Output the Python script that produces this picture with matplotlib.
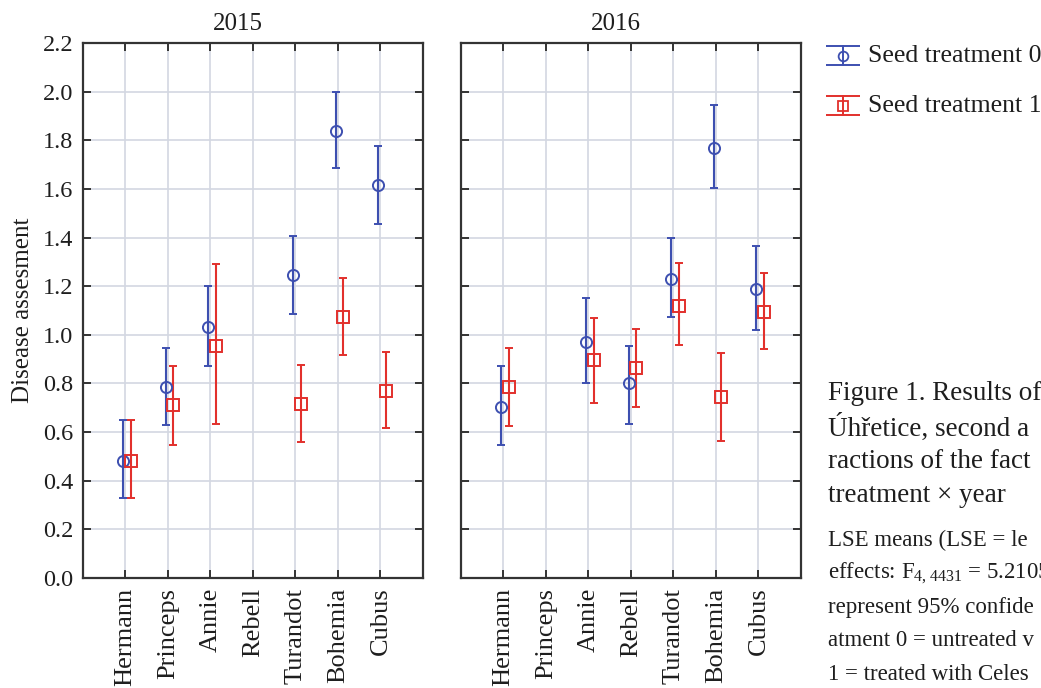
import numpy as np
import matplotlib.pyplot as plt
from matplotlib.lines import Line2D

plt.rcParams['font.family'] = ['Liberation Serif', 'DejaVu Serif']
plt.rcParams['mathtext.fontset'] = 'custom'
plt.rcParams['mathtext.rm'] = 'Liberation Serif'

cultivars = ['Hermann', 'Princeps', 'Annie', 'Rebell', 'Turandot', 'Bohemia', 'Cubus']
years = ['2015', '2016']

# means and 95% CI bounds, nan = not tested that year
t0_mean_2015 = [0.48, 0.785, 1.03, np.nan, 1.245, 1.84, 1.615]
t0_low_2015 = [0.33, 0.63, 0.87, np.nan, 1.085, 1.685, 1.455]
t0_high_2015 = [0.65, 0.945, 1.20, np.nan, 1.405, 2.00, 1.775]
t1_mean_2015 = [0.48, 0.71, 0.955, np.nan, 0.715, 1.075, 0.77]
t1_low_2015 = [0.33, 0.545, 0.635, np.nan, 0.56, 0.915, 0.615]
t1_high_2015 = [0.65, 0.87, 1.29, np.nan, 0.875, 1.235, 0.93]

t0_mean_2016 = [0.705, np.nan, 0.97, 0.80, 1.23, 1.77, 1.19]
t0_low_2016 = [0.545, np.nan, 0.80, 0.635, 1.075, 1.605, 1.02]
t0_high_2016 = [0.87, np.nan, 1.15, 0.955, 1.40, 1.945, 1.365]
t1_mean_2016 = [0.785, np.nan, 0.895, 0.865, 1.12, 0.745, 1.095]
t1_low_2016 = [0.625, np.nan, 0.72, 0.705, 0.96, 0.565, 0.94]
t1_high_2016 = [0.945, np.nan, 1.07, 1.025, 1.295, 0.925, 1.255]

blue = '#3d4fb0'
red = '#e2302c'
gridc = '#d3d7e2'
framec = '#333333'
txtc = '#1e1e1e'

fig = plt.figure(figsize=(10.41, 6.88), dpi=100)
axes = [fig.add_axes([0.0797, 0.16, 0.3266, 0.7775]),
        fig.add_axes([0.4428, 0.16, 0.3266, 0.7775])]

data = {
    '2015': (t0_mean_2015, t0_low_2015, t0_high_2015, t1_mean_2015, t1_low_2015, t1_high_2015),
    '2016': (t0_mean_2016, t0_low_2016, t0_high_2016, t1_mean_2016, t1_low_2016, t1_high_2016),
}

x = np.arange(1, len(cultivars) + 1)
for ax, yr in zip(axes, years):
    m0, l0, h0, m1, l1, h1 = [np.array(v) for v in data[yr]]
    ax.errorbar(x - 0.05, m0, yerr=[m0 - l0, h0 - m0], fmt='o', color=blue,
                mfc='none', mec=blue, ms=8, mew=1.4, elinewidth=1.5, capsize=2.8,
                capthick=1.5, zorder=3)
    ax.errorbar(x + 0.12, m1, yerr=[m1 - l1, h1 - m1], fmt='s', color=red,
                mfc='none', mec=red, ms=8, mew=1.4, elinewidth=1.5, capsize=2.8,
                capthick=1.5, zorder=3)
    ax.set_xlim(0, 8)
    ax.set_ylim(0, 2.2)
    ax.set_xticks(x)
    ax.set_xticklabels(cultivars, rotation=90, fontsize=19, color=txtc)
    ax.set_yticks(np.arange(0, 2.21, 0.2))
    ax.set_yticklabels(['%.1f' % v for v in np.arange(0, 2.21, 0.2)], fontsize=17.5,
                       color=txtc)
    ax.grid(True, color=gridc, lw=1.2)
    ax.set_axisbelow(True)
    ax.tick_params(direction='in', length=6, width=1.4, color=framec,
                   top=True, right=True, pad=7)
    for s in ax.spines.values():
        s.set_linewidth(1.6)
        s.set_color(framec)
    ax.set_title(yr, fontsize=18, x=0.455, pad=9, color=txtc)

axes[1].tick_params(labelleft=False)
axes[0].set_ylabel('Disease assesment', fontsize=18, labelpad=6, color=txtc)

# legend drawn like the original statistica symbol
lax = fig.add_axes([0.793, 0.82, 0.033, 0.125])
lax.set_xlim(0, 1)
lax.set_ylim(0, 1)
lax.axis('off')
for yc, col, mk, lab in [(0.79, blue, 'o', 'Seed treatment 0'),
                         (0.21, red, 's', 'Seed treatment 1')]:
    lax.add_line(Line2D([0, 1], [yc + 0.11, yc + 0.11], color=col, lw=1.4))
    lax.add_line(Line2D([0, 1], [yc - 0.11, yc - 0.11], color=col, lw=1.4))
    lax.add_line(Line2D([0.5, 0.5], [yc - 0.11, yc + 0.11], color=col, lw=1.4))
    lax.plot([0.5], [yc], marker=mk, ms=7, mfc='none', mec=col, mew=1.3)
    fig.text(0.834, 0.82 + 0.125 * yc, lab, fontsize=18.5, va='center', ha='left',
             color=txtc)

# caption text (cut by the page edge as in the original)
cap1 = ['Figure 1. Results of', 'Úhřetice, second a', 'ractions of the fact',
        'treatment × year']
for i, line in enumerate(cap1):
    fig.text(0.7955, 1 - (394 + i * 34) / 688, line, fontsize=19.5, va='center',
             ha='left', color=txtc)
cap2 = ['LSE means (LSE = le', r'effects: F$_{\mathrm{4,4431}}$ = 5.2105',
        'represent 95% confide', 'atment 0 = untreated v', '1 = treated with Celes']
for i, line in enumerate(cap2):
    fig.text(0.7955, 1 - (540 + i * 33.5) / 688, line, fontsize=16.5, va='center',
             ha='left', color=txtc)

fig.savefig('out.png', dpi=100, facecolor='white')
